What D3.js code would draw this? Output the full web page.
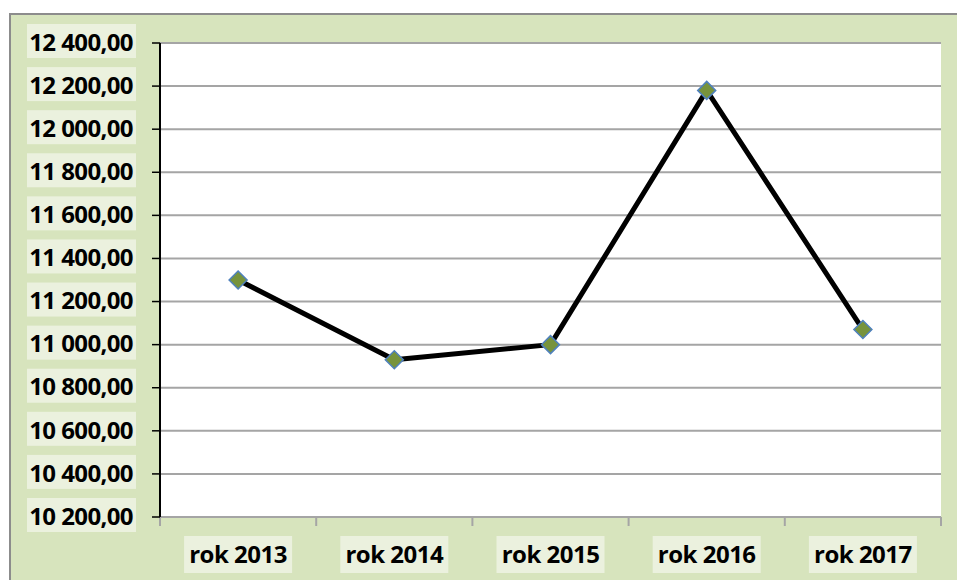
<!DOCTYPE html>
<html>
<head>
<meta charset="utf-8">
<script src="https://cdn.jsdelivr.net/npm/d3@7"></script>
<style>
  body { margin: 0; background: #fff; }
  svg { display: block; }
  text { font-family: "Open Sans", "Noto Sans", sans-serif; font-weight: bold; fill: #000; }
</style>
</head>
<body>
<svg id="chart" width="957" height="580"></svg>
<script>
var categories = ["rok 2013", "rok 2014", "rok 2015", "rok 2016", "rok 2017"];
var values = [11300, 10930, 11000, 12180, 11070];
var yTicks = [10200, 10400, 10600, 10800, 11000, 11200, 11400, 11600, 11800, 12000, 12200, 12400];

var W = 957, H = 580;
var margin = {top: 43, left: 160};

var svg = d3.select("#chart");

// chart area background + border
svg.append("rect")
    .attr("x", 10).attr("y", 14)
    .attr("width", W + 20).attr("height", H + 20)
    .attr("fill", "#d7e4bd")
    .attr("stroke", "#8c8c8c")
    .attr("stroke-width", 2);

var g = svg.append("g").attr("transform", "translate(" + margin.left + "," + margin.top + ")");

var x = d3.scaleBand().domain(categories).range([0, 781]);
var y = d3.scaleLinear().domain([10200, 12400]).range([474, 0]);

// plot area
g.append("rect").attr("width", 781).attr("height", 474).attr("fill", "#fff");

// gridlines
g.selectAll(".grid").data(yTicks.slice(1)).enter().append("line")
    .attr("x1", 0).attr("x2", 781)
    .attr("y1", function (d) { return y(d); })
    .attr("y2", function (d) { return y(d); })
    .attr("stroke", "#a5a5a5").attr("stroke-width", 2);

// x axis
var xAxis = g.append("g").attr("transform", "translate(0,474)");
xAxis.append("line").attr("x1", 0).attr("x2", 781).attr("stroke", "#a5a5a5").attr("stroke-width", 2);
xAxis.selectAll(".xt").data(d3.range(categories.length + 1)).enter().append("line")
    .attr("x1", function (i) { return i * x.bandwidth(); })
    .attr("x2", function (i) { return i * x.bandwidth(); })
    .attr("y1", 0).attr("y2", 9)
    .attr("stroke", "#a5a5a5").attr("stroke-width", 2);

var xl = xAxis.selectAll(".xl").data(categories).enter().append("g")
    .attr("transform", function (d) { return "translate(" + (x(d) + x.bandwidth() / 2) + ",37)"; });
xl.append("rect").attr("x", -54).attr("y", -18).attr("width", 108).attr("height", 37).attr("fill", "#ebf1de");
xl.append("text").attr("text-anchor", "middle").attr("dy", "0.36em")
    .style("font-size", "24px").style("letter-spacing", "-0.5px").text(function (d) { return d; });

// y axis
var yAxis = g.append("g");
yAxis.append("line").attr("x1", 0).attr("x2", 0).attr("y1", 0).attr("y2", 474)
    .attr("stroke", "#000").attr("stroke-width", 2);
yAxis.selectAll(".yt").data(yTicks).enter().append("line")
    .attr("x1", -8).attr("x2", 0)
    .attr("y1", function (d) { return y(d); })
    .attr("y2", function (d) { return y(d); })
    .attr("stroke", "#000").attr("stroke-width", 1.5);

var fmt = function (d) {
    return d3.format(",.2f")(d).replace(/,/g, " ").replace(".", ",");
};
var yl = yAxis.selectAll(".yl").data(yTicks).enter().append("g")
    .attr("transform", function (d) { return "translate(-27," + y(d) + ")"; });
yl.append("rect").attr("x", -106).attr("y", -19).attr("width", 109).attr("height", 34).attr("fill", "#ebf1de");
yl.append("text").attr("text-anchor", "end").attr("dy", "0.32em")
    .style("font-size", "24px").style("letter-spacing", "-0.6px").text(fmt);

// line
var line = d3.line()
    .x(function (d, i) { return x(categories[i]) + x.bandwidth() / 2; })
    .y(function (d) { return y(d); });
g.append("path").datum(values)
    .attr("d", line)
    .attr("fill", "none").attr("stroke", "#000").attr("stroke-width", 5)
    .attr("stroke-linejoin", "round");

// markers
g.selectAll(".pt").data(values).enter().append("path")
    .attr("transform", function (d, i) {
        return "translate(" + (x(categories[i]) + x.bandwidth() / 2) + "," + y(d) + ")";
    })
    .attr("d", "M0,-9L9,0L0,9L-9,0Z")
    .attr("fill", "#77933c").attr("stroke", "#4f81bd").attr("stroke-width", 1.5);
</script>
</body>
</html>
